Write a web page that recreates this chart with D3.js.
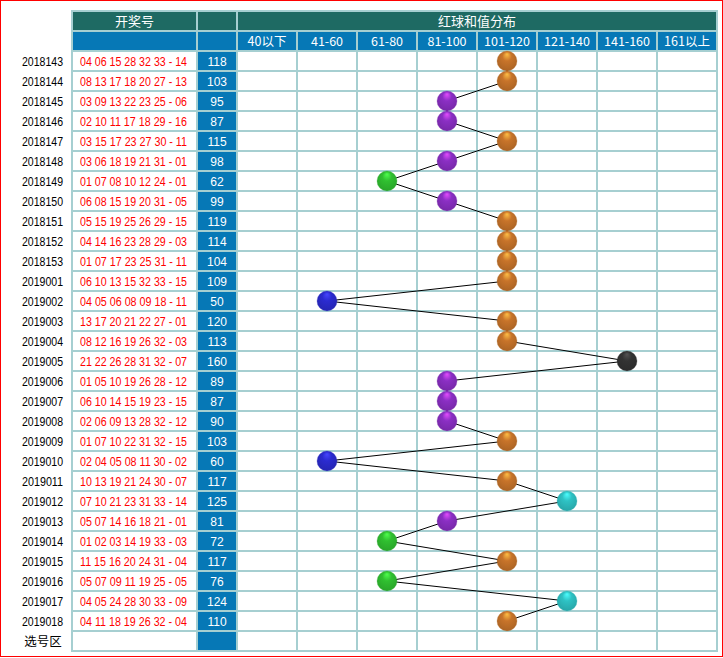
<!DOCTYPE html>
<html><head><meta charset="utf-8">
<script src="https://cdn.jsdelivr.net/npm/d3@7"></script>
<style>
html,body{margin:0;padding:0;background:#fff;}
svg{display:block;}
</style></head>
<body>
<script>
const periods = ["2018143","2018144","2018145","2018146","2018147","2018148","2018149","2018150","2018151","2018152","2018153","2019001","2019002","2019003","2019004","2019005","2019006","2019007","2019008","2019009","2019010","2019011","2019012","2019013","2019014","2019015","2019016","2019017","2019018"];
const redBalls = [
"04 06 15 28 32 33","08 13 17 18 20 27","03 09 13 22 23 25","02 10 11 17 18 29","03 15 17 23 27 30","03 06 18 19 21 31","01 07 08 10 12 24","06 08 15 19 20 31","05 15 19 25 26 29","04 14 16 23 28 29","01 07 17 23 25 31","06 10 13 15 32 33","04 05 06 08 09 18","13 17 20 21 22 27","08 12 16 19 26 32","21 22 26 28 31 32","01 05 10 19 26 28","06 10 14 15 19 23","02 06 09 13 28 32","01 07 10 22 31 32","02 04 05 08 11 30","10 13 19 21 24 30","07 10 21 23 31 33","05 07 14 16 18 21","01 02 03 14 19 33","11 15 16 20 24 31","05 07 09 11 19 25","04 05 24 28 30 33","04 11 18 19 26 32"];
const blueBalls = ["14","13","06","16","11","01","01","05","15","03","11","15","11","01","03","07","12","15","12","15","02","07","14","01","03","04","05","09","04"];
const sums = [118,103,95,87,115,98,62,99,119,114,104,109,50,120,113,160,89,87,90,103,60,117,125,81,72,117,76,124,110];
const bins = ["40以下","41-60","61-80","81-100","101-120","121-140","141-160","161以上"];
const binUpper = [40,60,80,100,120,140,160,Infinity];
const ballColors = ["#888888","#2b2bd0","#30c030","#8b2fc4","#c8742a","#2ec2c4","#333333","#888888"];
const footerLabel = "选号区";

const W = 723, H = 658;
const gridColor = "#a6cfd1", headGreen = "#1e6a63", headBlue = "#0678b6";
const svg = d3.select("body").append("svg").attr("width", W).attr("height", H);

const rows = ["h1","h2", ...periods, "footer"];
const y = d3.scaleBand().domain(rows).range([11, 651]);
const x = d3.scaleBand().domain(bins).range([237, 717]);
const colNum = [72, 197], colSum = [197, 237];

// gradients
const defs = svg.append("defs");
ballColors.forEach((c, i) => {
  const g = defs.append("radialGradient").attr("id", "ball" + i)
    .attr("cx", "50%").attr("cy", "45%").attr("r", "58%").attr("fx", "50%").attr("fy", "15%");
  g.append("stop").attr("offset", "0%").attr("stop-color", d3.color(c).brighter(1.4));
  g.append("stop").attr("offset", "40%").attr("stop-color", c);
  g.append("stop").attr("offset", "100%").attr("stop-color", d3.color(c).darker(0.45));
});

// background grid
svg.append("rect").attr("x", 71).attr("y", 10).attr("width", 717 - 71 + 1).attr("height", 651 - 10 + 1).attr("fill", gridColor);

function cell(x0, x1, r, fill) {
  svg.append("rect").attr("x", x0 + 1).attr("y", y(r) + 1)
    .attr("width", x1 - x0 - 2).attr("height", y.bandwidth() - 2).attr("fill", fill);
}
cell(colNum[0], colNum[1], "h1", headGreen);
cell(colSum[0], colSum[1], "h1", headGreen);
cell(237, 717, "h1", headGreen);
cell(colNum[0], colNum[1], "h2", headBlue);
cell(colSum[0], colSum[1], "h2", headBlue);
bins.forEach(b => cell(x(b), x(b) + x.bandwidth(), "h2", headBlue));
[...periods, "footer"].forEach(p => {
  cell(colNum[0], colNum[1], p, "#ffffff");
  cell(colSum[0], colSum[1], p, headBlue);
  bins.forEach(b => cell(x(b), x(b) + x.bandwidth(), p, "#ffffff"));
});

const cjk = "'Noto Sans CJK SC', 'Liberation Sans', sans-serif";
const lat = "'Liberation Sans', Arial, sans-serif";
const cy = r => y(r) + y.bandwidth() / 2;

svg.append("text").attr("x", (colNum[0] + colNum[1]) / 2).attr("y", cy("h1") + 5)
  .attr("text-anchor", "middle").attr("fill", "#fff").attr("font-family", cjk).attr("font-size", 13).text("开奖号");
svg.append("text").attr("x", (237 + 717) / 2).attr("y", cy("h1") + 5)
  .attr("text-anchor", "middle").attr("fill", "#fff").attr("font-family", cjk).attr("font-size", 13).text("红球和值分布");
svg.selectAll("text.bin").data(bins).join("text").attr("class", "bin")
  .attr("x", d => x(d) + x.bandwidth() / 2).attr("y", cy("h2") + 5)
  .attr("text-anchor", "middle").attr("fill", "#fff").attr("font-family", cjk).attr("font-size", 12.5).text(d => d);

svg.selectAll("text.per").data(periods).join("text").attr("class", "per")
  .attr("x", 63).attr("y", d => cy(d) + 4.5).attr("text-anchor", "end")
  .attr("font-family", lat).attr("font-size", 12).attr("fill", "#000")
  .attr("textLength", 41).attr("lengthAdjust", "spacingAndGlyphs").text(d => d);
svg.append("text").attr("x", 43).attr("y", cy("footer") + 5).attr("text-anchor", "middle")
  .attr("font-family", cjk).attr("font-size", 12.5).attr("fill", "#000").text(footerLabel);

svg.selectAll("text.num").data(periods).join("text").attr("class", "num")
  .attr("x", 80).attr("y", d => cy(d) + 4.5)
  .attr("font-family", lat).attr("font-size", 12).attr("fill", "#ff0000")
  .attr("textLength", 107).attr("lengthAdjust", "spacingAndGlyphs")
  .text((d, i) => redBalls[i] + " - " + blueBalls[i]);
svg.selectAll("text.sum").data(periods).join("text").attr("class", "sum")
  .attr("x", (colSum[0] + colSum[1]) / 2).attr("y", d => cy(d) + 4.5).attr("text-anchor", "middle")
  .attr("font-family", lat).attr("font-size", 12).attr("fill", "#fff")
  .text((d, i) => sums[i]);

const binIndex = s => binUpper.findIndex(u => s <= u);
const pts = periods.map((p, i) => {
  const bi = binIndex(sums[i]);
  return { x: x(bins[bi]) + x.bandwidth() / 2, y: cy(p), bi };
});
svg.append("path").datum(pts)
  .attr("d", d3.line().x(d => d.x).y(d => d.y))
  .attr("fill", "none").attr("stroke", "#000").attr("stroke-width", 1);
svg.selectAll("circle.ball").data(pts).join("circle").attr("class", "ball")
  .attr("cx", d => d.x).attr("cy", d => d.y).attr("r", 10)
  .attr("fill", d => `url(#ball${d.bi})`)
  .attr("stroke", d => d3.color(ballColors[d.bi]).darker(0.3)).attr("stroke-opacity", 0.35).attr("stroke-width", 0.8);

svg.append("rect").attr("x", 0.5).attr("y", 0.5).attr("width", 722).attr("height", 656)
  .attr("fill", "none").attr("stroke", "#ff0000").attr("stroke-width", 1);
</script>
</body></html>
